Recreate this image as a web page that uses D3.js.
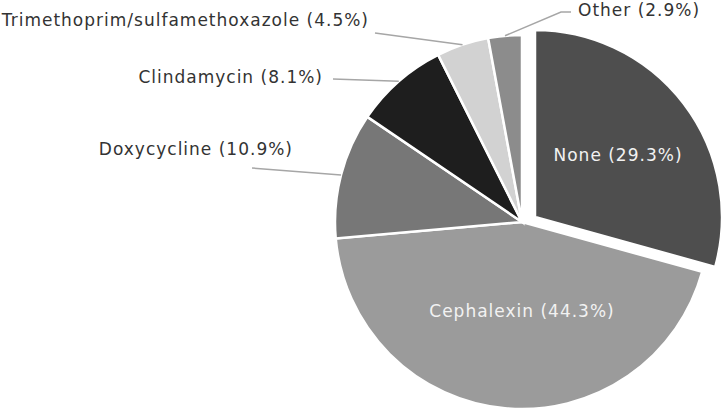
<!DOCTYPE html>
<html>
<head>
<meta charset="utf-8">
<script src="https://cdn.jsdelivr.net/npm/d3@7"></script>
<style>
  html, body { margin: 0; padding: 0; background: #fff; }
  text { font-family: "DejaVu Sans", Verdana, sans-serif; letter-spacing: 1px; }
</style>
</head>
<body>
<div id="chart"></div>
<script>
// Data
const drugs = ["None", "Cephalexin", "Doxycycline", "Clindamycin", "Trimethoprim/sulfamethoxazole", "Other"];
const shares = [29.3, 44.3, 10.9, 8.1, 4.5, 2.9];
const shades = ["#4e4e4e", "#9b9b9b", "#777777", "#1e1e1e", "#d2d2d2", "#8c8c8c"];

const data = drugs.map((d, i) => ({name: d, value: shares[i], color: shades[i]}));

const width = 721, height = 411;
const cx = 522, cy = 222, radius = 187;

const svg = d3.select("#chart")
  .append("svg")
    .attr("width", width)
    .attr("height", height);

const g = svg.append("g")
    .attr("transform", `translate(${cx},${cy})`);

// keep the order of the data, start at 12 o'clock, clockwise
const pie = d3.pie()
    .sort(null)
    .value(d => d.value);

const arc = d3.arc()
    .innerRadius(0)
    .outerRadius(radius);

const arcs = pie(data);

// first slice is pulled out
const explode = {None: [13, -5]};

g.selectAll("path.slice")
  .data(arcs)
  .enter().append("path")
    .attr("class", "slice")
    .attr("d", arc)
    .attr("transform", d => explode[d.data.name] ? `translate(${explode[d.data.name]})` : null)
    .attr("fill", d => d.data.color)
    .attr("stroke", "#fff")
    .attr("stroke-width", 2.5);

const label = d => `${d.data.name} (${d.data.value.toFixed(1)}%)`;

// labels inside the two big slices
const inside = {
  None: [96, -61],
  Cephalexin: [0, 95]
};

g.selectAll("text.inside")
  .data(arcs.filter(d => inside[d.data.name]))
  .enter().append("text")
    .attr("class", "inside")
    .attr("x", d => inside[d.data.name][0])
    .attr("y", d => inside[d.data.name][1])
    .attr("text-anchor", "middle")
    .attr("font-size", 17)
    .attr("fill", "#f2f2f2")
    .text(label);

// labels outside with leader lines: text anchor point and line start
const outside = {
  Doxycycline: {tx: 293, ty: 155, anchor: "end", line: [[252, 168]]},
  Clindamycin: {tx: 323, ty: 83, anchor: "end", line: [[333, 79]]},
  "Trimethoprim/sulfamethoxazole": {tx: 369, ty: 26, anchor: "end", line: [[375, 33]]},
  Other: {tx: 578, ty: 16, anchor: "start", line: [[571, 12], [561, 12]]}
};

const outer = arcs.filter(d => outside[d.data.name]);

const leader = d3.line();

svg.selectAll("path.leader")
  .data(outer)
  .enter().append("path")
    .attr("class", "leader")
    .attr("fill", "none")
    .attr("stroke", "#a6a6a6")
    .attr("stroke-width", 1.5)
    .attr("d", d => {
      const a = (d.startAngle + d.endAngle) / 2;
      const end = [cx + radius * Math.sin(a), cy - radius * Math.cos(a)];
      return leader([...outside[d.data.name].line, end]);
    });

svg.selectAll("text.outside")
  .data(outer)
  .enter().append("text")
    .attr("class", "outside")
    .attr("x", d => outside[d.data.name].tx)
    .attr("y", d => outside[d.data.name].ty)
    .attr("text-anchor", d => outside[d.data.name].anchor)
    .attr("font-size", 17)
    .attr("fill", "#333")
    .text(label);
</script>
</body>
</html>
